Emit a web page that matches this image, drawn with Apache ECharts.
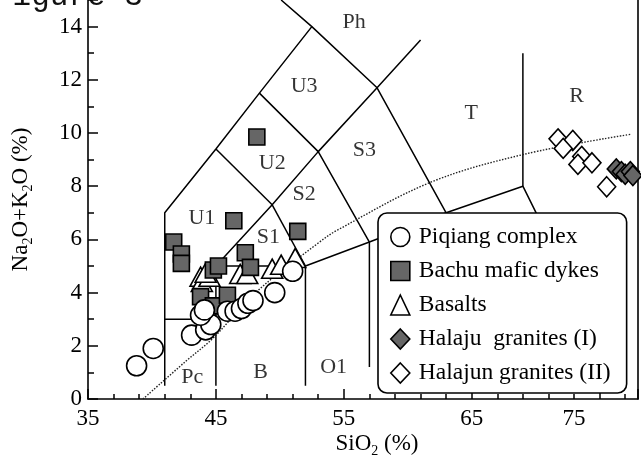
<!DOCTYPE html>
<html><head><meta charset="utf-8">
<script src="https://cdn.jsdelivr.net/npm/echarts@6/dist/echarts.min.js"></script>
<style>html,body{margin:0;padding:0;background:#fff}#c{width:641px;height:463px}</style>
</head><body><div id="c"></div>
<script>
// ---- data ----
const piqiang = [[38.8,1.25],[40.1,1.9],[43.1,2.4],[44.2,2.6],[44.6,2.8],[43.8,3.15],[44.1,3.35],[45.9,3.3],[46.5,3.3],[47.0,3.4],[47.5,3.6],[47.9,3.7],[49.6,4.0],[51.0,4.8]];
const bachu = [[41.7,5.9],[42.3,5.45],[42.3,5.1],[43.8,3.85],[44.8,3.5],[44.8,4.85],[45.2,5.0],[45.9,3.9],[46.4,6.7],[47.3,5.5],[47.7,4.95],[48.2,9.85],[51.4,6.3]];
const basalts = [[43.8,4.6],[43.9,4.4],[44.5,4.6],[44.2,4.75],[46.9,4.7],[47.45,4.7],[49.4,4.9],[50.1,5.05],[51.2,5.3]];
const halajuI = [[76.3,8.65],[76.7,8.55],[77.0,8.45],[77.4,8.55],[77.6,8.4]];
const halajunII = [[71.75,9.78],[72.9,9.72],[72.15,9.42],[73.6,9.12],[73.3,8.82],[74.4,8.88],[75.55,7.98]];
const alkalineLine = [[39.3,0],[42.6,1.4],[44.8,2.3],[48.1,4.0],[53.1,5.9],[54.5,6.35],[61.8,8.15],[69.1,9.2],[77.4,9.95]];

const boundaryOuter = [[41,0.5],[41,7],[45,9.4],[48.4,11.5],[52.5,14],[50.1,15]];
const boundaryPc = [[41,3],[45,3]];
const boundaryS1 = [[45,0.5],[45,5],[49.4,7.3],[53,9.3],[57.6,11.7],[61,13.5]];
const boundaryB = [[45,5],[52,5]];
const boundaryO = [[52,0.5],[52,5],[57,5.9],[63,7],[69,8],[75.9,1.3]];
const boundaryS2 = [[49.4,7.3],[52,5]];
const boundaryU1 = [[45,9.4],[49.4,7.3]];
const boundaryU2 = [[48.4,11.5],[53,9.3],[57,5.9],[57,1.2]];
const boundaryU3 = [[52.5,14],[57.6,11.7],[63,7],[63,0.5]];
const boundaryR = [[69,8],[69,13]];
const boundaries = [boundaryOuter,boundaryPc,boundaryS1,boundaryB,boundaryO,boundaryS2,boundaryU1,boundaryU2,boundaryU3,boundaryR];

const fieldNames = ['Ph','U3','U2','S3','S2','U1','S1','T','R','Pc','B','O1'];
const fieldX = [55.8,51.9,49.4,56.6,51.9,43.9,49.1,64.96,73.2,43.15,48.5,54.2];
const fieldY = [14.17,11.77,8.88,9.35,7.69,6.79,6.1,10.76,11.4,0.83,1.0,1.19];

const xLabelValues = [35,45,55,65,73];
const xLabelTexts = ['35','45','55','65','75'];
const yLabelValues = [0,2,4,6,8,10,12,14];

const legendNames = ['Piqiang complex','Bachu mafic dykes','Basalts','Halaju  granites (I)','Halajun granites (II)'];

// ---- chart ----
const FONT = '"Liberation Serif", "Times New Roman", serif';
const chart = echarts.init(document.getElementById('c'), null, {renderer:'canvas'});
const axisLine = {show:true, lineStyle:{color:'#000', width:1.6}};
const tickStyle = {color:'#000', width:1.5};
const series = [];
boundaries.forEach((b,i)=>series.push({type:'line', name:'bd'+i, data:b, showSymbol:false, symbol:'none', silent:true, z:1,
  lineStyle:{color:'#000', width:1.5}, animation:false}));
series.push({type:'line', name:'alk', data:alkalineLine, smooth:0.35, showSymbol:false, symbol:'none', silent:true, z:1,
  lineStyle:{color:'#222', width:1.4, type:[1.5,1.5]}});
series.push({type:'scatter', name:'fields', silent:true, z:1, symbolSize:1, itemStyle:{color:'rgba(0,0,0,0)'},
  data: fieldNames.map((n,i)=>({name:n, value:[fieldX[i], fieldY[i]]})),
  label:{show:true, position:'inside', formatter:'{b}', fontFamily:FONT, fontSize:22, color:'#000'}});
const mk = (name, data, symbol, size, color) => ({type:'scatter', name, data, symbol, symbolSize:size, z:3,
  itemStyle:{color, borderColor:'#000', borderWidth:1.6, opacity:1}});
series.push(mk(legendNames[2], basalts, 'triangle', [21,19], '#fff'));
series.push(mk(legendNames[1], bachu, 'rect', 16, '#666'));
series.push(mk(legendNames[0], piqiang, 'circle', 20, '#fff'));
series.push(mk(legendNames[4], halajunII, 'diamond', [18,20], '#fff'));
series.push(mk(legendNames[3], halajuI, 'diamond', [18,20], '#666'));

chart.setOption({
  animation:false,
  backgroundColor:'#fff',
  textStyle:{fontFamily:FONT},
  grid:{left:88, right:3, top:-10, bottom:57, containLabel:false},
  xAxis:[
    {type:'value', min:35, max:78, interval:10, position:'bottom', axisLine,
     axisTick:{show:true, inside:true, length:10, lineStyle:tickStyle},
     axisLabel:{show:false}, splitLine:{show:false},
     name:'SiO{s|2} (%)', nameLocation:'middle', nameGap:30,
     nameTextStyle:{fontFamily:FONT, fontSize:23, color:'#000', padding:[0,0,0,28],
       rich:{s:{fontFamily:FONT, fontSize:14, lineHeight:29, verticalAlign:'bottom', color:'#000'}}}},
    {type:'value', min:35, max:78, interval:2, position:'bottom', axisLine:{show:false},
     axisTick:{show:true, inside:true, length:5, lineStyle:tickStyle},
     axisLabel:{show:true, margin:8, fontFamily:FONT, fontSize:23, color:'#000',
       formatter:v=>{const k=xLabelValues.indexOf(Math.round(v*100)/100); return k>=0?xLabelTexts[k]:'';}},
     splitLine:{show:false}}
  ],
  yAxis:[
    {type:'value', min:0, max:15, interval:2, position:'left', axisLine,
     axisTick:{show:true, inside:true, length:10, lineStyle:tickStyle},
     axisLabel:{margin:6, fontFamily:FONT, fontSize:23, color:'#000',
       formatter:v=>yLabelValues.indexOf(v)>=0?String(v):''},
     splitLine:{show:false},
     name:'Na{s|2}O+K{s|2}O (%)', nameLocation:'middle', nameGap:53, nameRotate:90,
     nameTextStyle:{fontFamily:FONT, fontSize:23, color:'#000',
       rich:{s:{fontFamily:FONT, fontSize:14, lineHeight:29, verticalAlign:'bottom', color:'#000'}}}},
    {type:'value', min:0, max:15, interval:1, position:'left', axisLine:{show:false},
     axisTick:{show:true, inside:true, length:6, lineStyle:tickStyle}, axisLabel:{show:false}, splitLine:{show:false}},
    {type:'value', min:0, max:15, position:'right', axisLine, axisTick:{show:false}, axisLabel:{show:false}, splitLine:{show:false}}
  ],
  legend:{
    data:[
      {name:legendNames[0], icon:'circle'},
      {name:legendNames[1], icon:'path://M0,0L16,0L16,16L0,16Z'},
      {name:legendNames[2], icon:'triangle'},
      {name:legendNames[3], icon:'diamond'},
      {name:legendNames[4], icon:'diamond'}
    ],
    orient:'vertical', left:378, top:213, itemWidth:19, itemHeight:20, itemGap:10,
    padding:[12,16,8,12], backgroundColor:'#fff', borderColor:'#000', borderWidth:1.6, borderRadius:9,
    selectedMode:false, itemStyle:{borderColor:'#000', borderWidth:1.6},
    textStyle:{fontFamily:FONT, fontSize:23.5, color:'#000', padding:[0,0,0,4]}
  },
  graphic:[{type:'text', x:-6, y:-19, silent:true,
    style:{text:'Figure 3', font:'31px "Liberation Mono", monospace', fill:'#111', align:'left', verticalAlign:'top'}}],
  series
});
</script></body></html>
